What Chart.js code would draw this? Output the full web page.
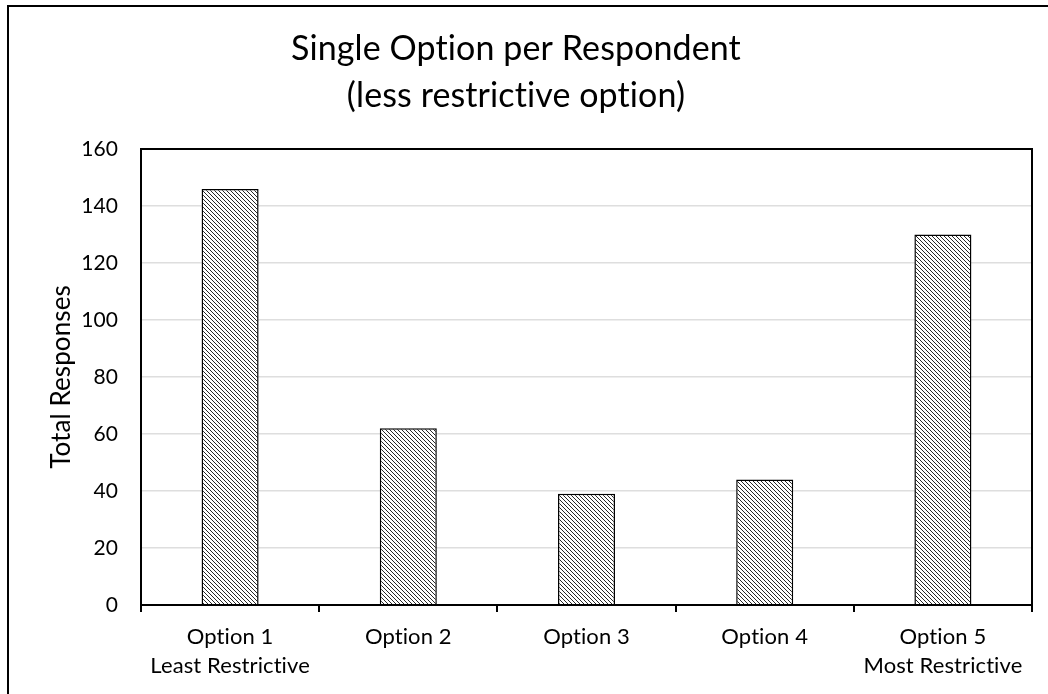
<!DOCTYPE html>
<html>
<head>
<meta charset="utf-8">
<title>Single Option per Respondent</title>
<script src="https://cdn.jsdelivr.net/npm/chart.js@4.4.0/dist/chart.umd.min.js"></script>
<style>
  html, body { margin: 0; padding: 0; background: #ffffff; }
  #wrap { width: 1048px; height: 694px; }
</style>
</head>
<body>
<div id="wrap"><canvas id="chart" width="1048" height="694"></canvas></div>
<script>
// Survey results: one chosen option per respondent
const categories = [
  ["Option 1", "Least Restrictive"],
  "Option 2",
  "Option 3",
  "Option 4",
  ["Option 5", "Most Restrictive"]
];
const responses = [146, 62, 39, 44, 130];
const yTickValues = [0, 20, 40, 60, 80, 100, 120, 140, 160];
const titleLines = ["Single Option per Respondent", "(less restrictive option)"];
const yAxisTitle = "Total Responses";

const FAMILY = 'Lato, "Noto Sans", sans-serif';

// Diagonal hatch fill for the bars
function makeHatch() {
  const size = 8;
  const c = document.createElement('canvas');
  c.width = size; c.height = size;
  const g = c.getContext('2d');
  const img = g.createImageData(size, size);
  for (let y = 0; y < size; y++) {
    for (let x = 0; x < size; x++) {
      const i = (y * size + x) * 4;
      const on = ((x - y + size * 2) % 4) === 0;
      const v = on ? 40 : 255;
      img.data[i] = v; img.data[i + 1] = v; img.data[i + 2] = v; img.data[i + 3] = 255;
    }
  }
  g.putImageData(img, 0, 0);
  return document.getElementById('chart').getContext('2d').createPattern(c, 'repeat');
}

// Page frame and plot box
const framePlugin = {
  id: 'frame',
  beforeDraw(chart) {
    const { ctx, width, height } = chart;
    // plain letter forms (no "ti" ligature)
    if ('letterSpacing' in ctx) ctx.letterSpacing = '0.1px';
    if ('textRendering' in ctx) ctx.textRendering = 'optimizeSpeed';
    ctx.save();
    ctx.fillStyle = '#ffffff';
    ctx.fillRect(0, 0, width, height);
    ctx.strokeStyle = '#000000';
    ctx.lineWidth = 2;
    ctx.beginPath();
    ctx.moveTo(8, height);
    ctx.lineTo(8, 6);
    ctx.lineTo(width, 6);
    ctx.stroke();
    ctx.restore();
  },
  afterDatasetsDraw(chart) {
    const { ctx, chartArea: a } = chart;
    ctx.save();
    ctx.strokeStyle = '#000000';
    ctx.lineWidth = 2;
    ctx.strokeRect(a.left, a.top, a.right - a.left, a.bottom - a.top);
    ctx.restore();
  }
};

new Chart(document.getElementById('chart'), {
  type: 'bar',
  data: {
    labels: categories,
    datasets: [{
      label: 'Total Responses',
      data: responses,
      backgroundColor: makeHatch(),
      borderColor: '#000000',
      borderWidth: 1.5,
      barPercentage: 0.32,
      categoryPercentage: 1.0
    }]
  },
  options: {
    responsive: false,
    animation: false,
    layout: { padding: { left: 0, right: 16, top: 0, bottom: 0 } },
    plugins: {
      legend: { display: false },
      tooltip: { enabled: false },
      title: {
        display: true,
        text: titleLines,
        color: '#000000',
        font: { family: FAMILY, size: 34, weight: 'normal', lineHeight: '47.5px' },
        padding: { top: 25, bottom: 29 }
      }
    },
    scales: {
      x: {
        offset: true,
        grid: {
          display: true,
          offset: true,
          drawOnChartArea: false,
          drawTicks: true,
          tickLength: 7,
          color: '#000000',
          lineWidth: 2
        },
        border: { display: true, color: '#000000', width: 2 },
        ticks: {
          color: '#000000',
          padding: 10,
          maxRotation: 0,
          autoSkip: false,
          font: { family: FAMILY, size: 22, lineHeight: '29px' }
        },
        afterFit(scale) { scale.height = 89; }
      },
      y: {
        min: 0,
        max: 160,
        afterBuildTicks(scale) {
          scale.ticks = yTickValues.map(v => ({ value: v }));
        },
        grid: {
          color: '#dedede',
          lineWidth: 1.5,
          drawTicks: false
        },
        border: { display: true, color: '#000000', width: 2 },
        ticks: {
          color: '#000000',
          padding: 23,
          font: { family: FAMILY, size: 21 }
        },
        title: {
          display: true,
          text: yAxisTitle,
          color: '#000000',
          font: { family: FAMILY, size: 26, lineHeight: 1.2 },
          padding: { top: 46, bottom: 0 }
        },
        afterFit(scale) { scale.width = 141; }
      }
    }
  },
  plugins: [framePlugin]
});
</script>
</body>
</html>
